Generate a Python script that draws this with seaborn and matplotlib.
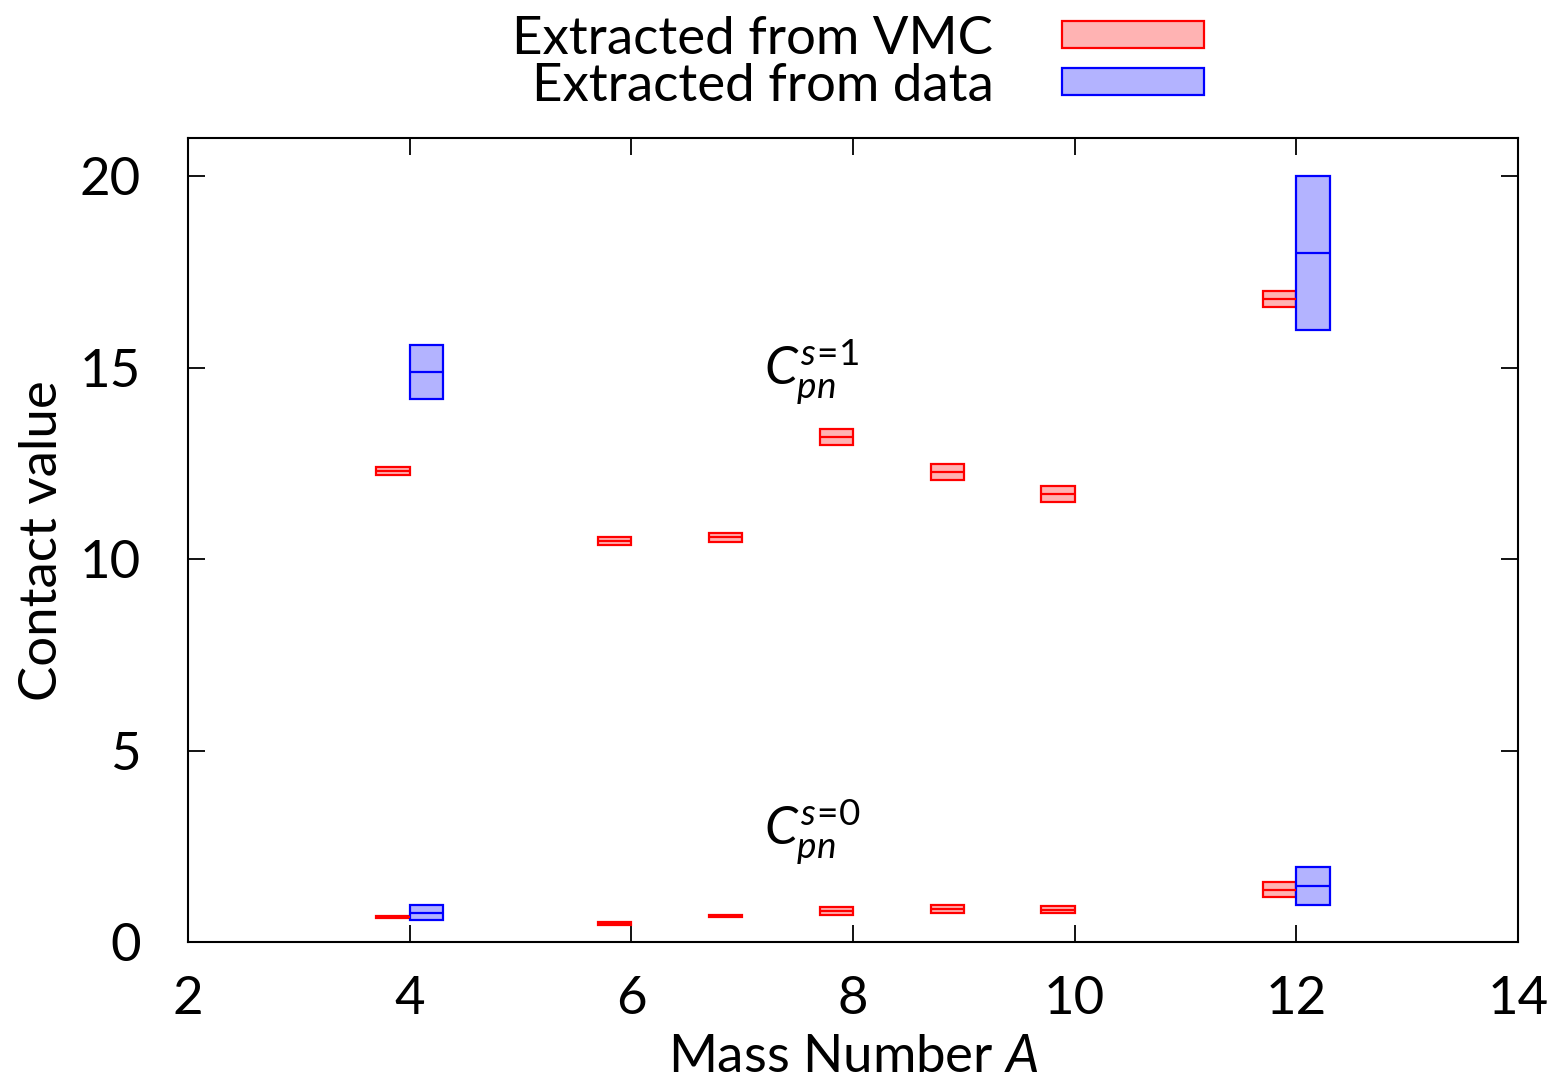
import numpy as np
import matplotlib
matplotlib.use("Agg")
import matplotlib.pyplot as plt
from matplotlib.patches import Patch
import seaborn as sns

# contact values (centre, half-width)
mass_vmc = [4, 6, 7, 8, 9, 10, 12]
s1_vmc = [12.3, 10.48, 10.58, 13.2, 12.28, 11.7, 16.8]
s1_vmc_err = [0.1, 0.11, 0.12, 0.21, 0.22, 0.21, 0.2]
s0_vmc = [0.66, 0.49, 0.68, 0.82, 0.86, 0.85, 1.37]
s0_vmc_err = [0.02, 0.03, 0.03, 0.1, 0.11, 0.1, 0.2]

mass_data = [4, 12]
s1_data = [14.9, 18.0]
s1_data_err = [0.7, 2.0]
s0_data = [0.77, 1.47]
s0_data_err = [0.2, 0.5]

sns.set_style("ticks")
plt.rcParams["font.family"] = ["Lato", "DejaVu Sans"]
plt.rcParams["mathtext.fontset"] = "custom"
plt.rcParams["mathtext.rm"] = "Lato"
plt.rcParams["mathtext.it"] = "Lato:italic"
plt.rcParams["font.size"] = 38
for k in ["text.color", "axes.labelcolor", "xtick.color", "ytick.color"]:
    plt.rcParams[k] = "black"

fig = plt.figure(figsize=(15.53, 10.88), dpi=100)
ax = fig.add_axes([0.121, 0.134, 0.8565, 0.739])

width = 0.3
red_face, red_edge = "#ffb3b3", "#ff0000"
blue_face, blue_edge = "#b3b3ff", "#0000ff"


def boxes(x, c, e, face, edge, shift):
    x = np.asarray(x, float)
    c = np.asarray(c, float)
    e = np.asarray(e, float)
    ax.bar(x + shift, 2 * e, bottom=c - e, width=width, align="edge",
           color=face, edgecolor=edge, linewidth=1.6, zorder=3)
    ax.hlines(c, x + shift, x + shift + width, colors=edge, linewidth=1.6, zorder=4)


for c, e in [(s1_vmc, s1_vmc_err), (s0_vmc, s0_vmc_err)]:
    boxes(mass_vmc, c, e, red_face, red_edge, -width)
for c, e in [(s1_data, s1_data_err), (s0_data, s0_data_err)]:
    boxes(mass_data, c, e, blue_face, blue_edge, 0)

ax.set_xlim(2, 14)
ax.set_ylim(0, 21)
ax.set_xticks(range(2, 15, 2))
ax.set_yticks(range(0, 21, 5))
ax.tick_params(direction="in", length=12, width=1.3, top=True, right=True,
               labelsize=38, colors="black")
ax.tick_params(axis="x", pad=24)
ax.tick_params(axis="y", pad=34)
for s in ax.spines.values():
    s.set_linewidth(1.5)
    s.set_color("black")

ax.set_xlabel("Mass Number $A$", fontsize=38, labelpad=8)
ax.set_ylabel("Contact value", fontsize=38, labelpad=10)

ax.text(7.2, 14.9, r"$C_{pn}^{s\!=\!1}$", fontsize=38, va="center", ha="left")
ax.text(7.2, 2.9, r"$C_{pn}^{s\!=\!0}$", fontsize=38, va="center", ha="left")

handles = [Patch(facecolor=red_face, edgecolor=red_edge, linewidth=1.6),
           Patch(facecolor=blue_face, edgecolor=blue_edge, linewidth=1.6)]
fig.legend(handles, ["Extracted from VMC", "Extracted from data"],
           loc="upper right", bbox_to_anchor=(0.7925, 1.01), frameon=False,
           markerfirst=False, handlelength=2.7, handleheight=0.42,
           labelspacing=0.0, handletextpad=1.3, borderpad=0.0, fontsize=38)

fig.savefig("out.png", dpi=100)
